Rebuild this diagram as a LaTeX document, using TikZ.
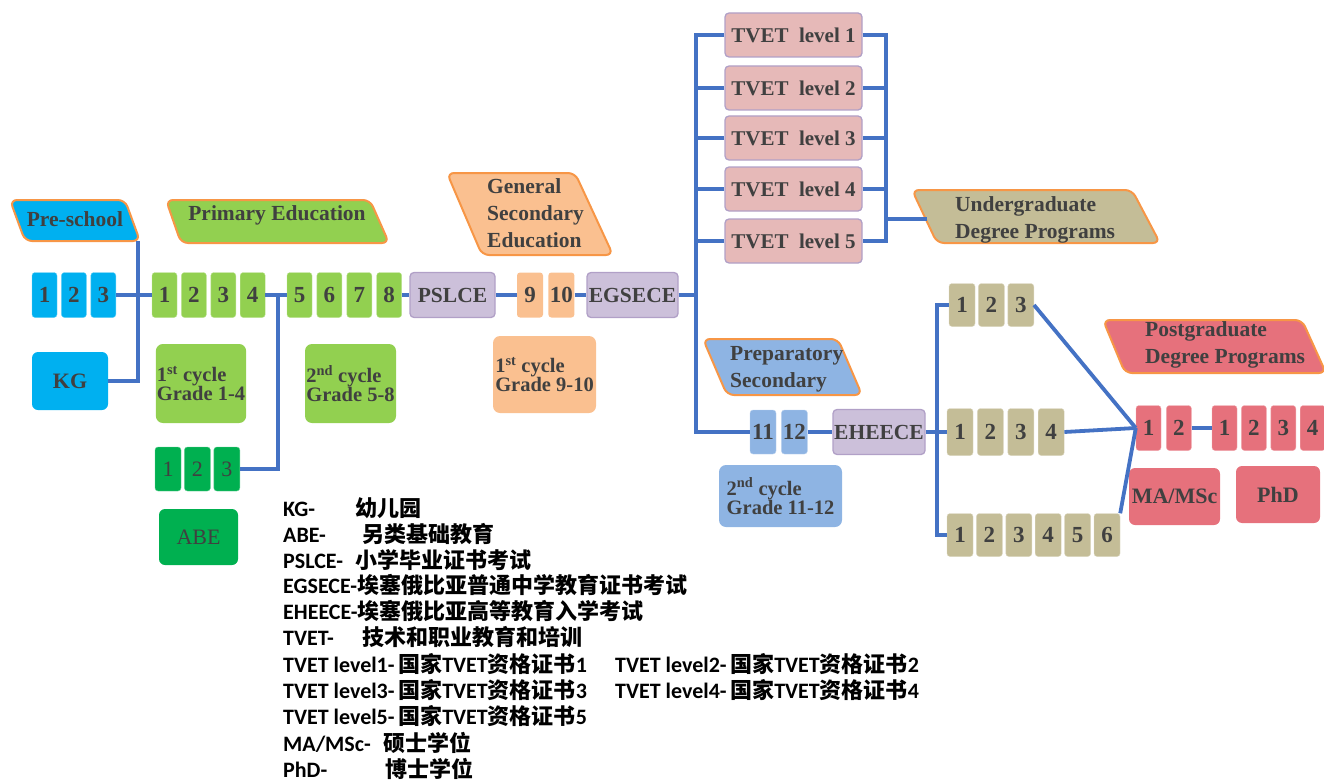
\documentclass[tikz,border=0pt]{standalone}
\usepackage{fontspec}
\setmainfont{Liberation Serif}
\newfontfamily\legendfont{Carlito}
\newfontfamily\cjk{Noto Sans CJK SC}
\usepackage{tikz}
\usetikzlibrary{positioning}
\newcommand{\zh}[1]{{\cjk\bfseries #1}}
\definecolor{linkblue}{HTML}{4472C4}
\definecolor{lblorange}{HTML}{F79646}
\definecolor{txtgrey}{HTML}{404040}
\definecolor{preblue}{HTML}{00B0F0}
\definecolor{primgreen}{HTML}{92D050}
\definecolor{abegreen}{HTML}{00B050}
\definecolor{exampurple}{HTML}{CCC0DA}
\definecolor{examborder}{HTML}{B1A0C7}
\definecolor{secorange}{HTML}{FAC090}
\definecolor{tvetpink}{HTML}{E6B9B8}
\definecolor{prepblue}{HTML}{8EB4E3}
\definecolor{ugtan}{HTML}{C4BD97}
\definecolor{pgred}{HTML}{E6717C}
\tikzstyle{link} = [draw=linkblue, line width=3.8pt]
\tikzstyle{grade} = [rectangle, rounded corners=3pt, minimum width=25pt, minimum height=45pt, inner sep=0pt, font=\bfseries\fontsize{23}{24}\selectfont, text=txtgrey]
\tikzstyle{bigbox} = [rectangle, rounded corners=6pt, inner sep=2pt, font=\bfseries\fontsize{22}{24}\selectfont, text=txtgrey]
\tikzstyle{cycle} = [rectangle, rounded corners=7pt, inner sep=1pt, align=left, font=\bfseries\fontsize{20.5}{19}\selectfont, text=txtgrey]
\tikzstyle{exam} = [rectangle, rounded corners=4pt, draw=examborder, line width=1.3pt, fill=exampurple, minimum height=45pt, inner sep=0pt, font=\bfseries\fontsize{21.5}{23}\selectfont, text=txtgrey]
\tikzstyle{tvet} = [exam, fill=tvetpink, minimum width=137pt, minimum height=44pt, font=\bfseries\fontsize{21}{23}\selectfont]
\tikzstyle{lbl} = [draw=lblorange, line width=2pt, rounded corners=7pt]
\tikzstyle{lbltext} = [align=left, inner sep=0pt, font=\bfseries\fontsize{21.5}{27}\selectfont, text=txtgrey]
\tikzstyle{legend} = [anchor=west, inner sep=0pt, font=\legendfont\bfseries\fontsize{22}{26}\selectfont]

\begin{document}
\begin{tikzpicture}[x=1pt, y=-1pt]
\useasboundingbox (0,0) rectangle (1324,781);

% section labels
\draw [lbl, fill=preblue] (10,200) -- (125,200) -- (140,241) -- (25,241) -- cycle;
\node [lbltext] (pre) at (75,219) {Pre-school};
\draw [lbl, fill=primgreen] (166,200) -- (370,200) -- (389,243) -- (181,243) -- cycle;
\node [lbltext] (prim) at (277,215) {Primary Education};
\draw [lbl, fill=secorange] (447,173) -- (575,173) -- (613,255) -- (482,255) -- cycle;
\node [lbltext, anchor=west] (gse) at (487,213) {General\\Secondary\\Education};
\draw [lbl, fill=ugtan] (912,190) -- (1132,190) -- (1160,243) -- (937,243) -- cycle;
\node [lbltext, anchor=west] (ug) at (955,220) {Undergraduate\\Degree Programs};
\draw [lbl, fill=prepblue] (703,339) -- (838,339) -- (862,395) -- (727,395) -- cycle;
\node [lbltext, anchor=west] (prep) at (730,369) {Preparatory\\Secondary};
\draw [lbl, fill=pgred] (1103,320) -- (1302,320) -- (1326,373) -- (1125,373) -- cycle;
\node [lbltext, anchor=west] (pg) at (1145,345) {Postgraduate\\Degree Programs};

% pre-school
\node [grade, fill=preblue, draw=preblue!60!white] (k1) at (44.5,295) {1};
\node [grade, fill=preblue, draw=preblue!60!white] (k2) [right=4pt of k1] {2};
\node [grade, fill=preblue, draw=preblue!60!white] (k3) [right=4pt of k2] {3};
\node [bigbox, fill=preblue, minimum width=76pt, minimum height=58pt] (kg) at (70,381) {KG};

% primary
\node [grade, fill=primgreen, draw=primgreen!60!white] (p1) at (164.5,295) {1};
\node [grade, fill=primgreen, draw=primgreen!60!white] (p2) [right=4pt of p1] {2};
\node [grade, fill=primgreen, draw=primgreen!60!white] (p3) [right=4pt of p2] {3};
\node [grade, fill=primgreen, draw=primgreen!60!white] (p4) [right=4pt of p3] {4};
\node [grade, fill=primgreen, draw=primgreen!60!white] (p5) at (299.5,295) {5};
\node [grade, fill=primgreen, draw=primgreen!60!white] (p6) [right=4.5pt of p5] {6};
\node [grade, fill=primgreen, draw=primgreen!60!white] (p7) [right=4.5pt of p6] {7};
\node [grade, fill=primgreen, draw=primgreen!60!white] (p8) [right=4.5pt of p7] {8};
\node [cycle, fill=primgreen, minimum width=90pt, minimum height=79pt] (c1) at (201,383.5) {1\textsuperscript{st} cycle\\Grade 1-4};
\node [cycle, fill=primgreen, minimum width=91pt, minimum height=79pt] (c2) at (350.5,383.5) {2\textsuperscript{nd} cycle\\Grade 5-8};

% ABE
\node [grade, fill=abegreen, draw=abegreen!60!white, minimum width=26pt, minimum height=44pt, font=\fontsize{22}{24}\selectfont] (a1) at (168,469) {1};
\node [grade, fill=abegreen, draw=abegreen!60!white, minimum width=26pt, minimum height=44pt, font=\fontsize{22}{24}\selectfont] (a2) [right=3pt of a1] {2};
\node [grade, fill=abegreen, draw=abegreen!60!white, minimum width=26pt, minimum height=44pt, font=\fontsize{22}{24}\selectfont] (a3) [right=3pt of a2] {3};
\node [bigbox, fill=abegreen, minimum width=79pt, minimum height=56pt, font=\fontsize{22}{24}\selectfont] (abe) at (198.5,537) {ABE};

% general secondary
\node [exam, minimum width=85pt] (pslce) at (452.5,295) {PSLCE};
\node [grade, fill=secorange, minimum width=26pt] (g9) at (530,295) {9};
\node [grade, fill=secorange, minimum width=26pt] (g10) [right=5pt of g9] {10};
\node [exam, minimum width=91pt] (egsece) at (632.5,295) {EGSECE};
\node [cycle, fill=secorange, minimum width=103pt, minimum height=77pt] (gc1) at (544.5,374.5) {1\textsuperscript{st} cycle\\Grade 9-10};

% TVET
\node [tvet] (t1) at (793.5,35) {TVET\ \ level 1};
\node [tvet] (t2) at (793.5,88) {TVET\ \ level 2};
\node [tvet] (t3) at (793.5,138) {TVET\ \ level 3};
\node [tvet] (t4) at (793.5,189) {TVET\ \ level 4};
\node [tvet] (t5) at (793.5,241) {TVET\ \ level 5};

% preparatory
\node [grade, fill=prepblue, draw=prepblue!60!white, minimum width=26pt, minimum height=44pt] (g11) at (763,432) {11};
\node [grade, fill=prepblue, draw=prepblue!60!white, minimum width=26pt, minimum height=44pt] (g12) [right=5pt of g11] {12};
\node [exam, minimum width=92pt] (eheece) at (879,432) {EHEECE};
\node [cycle, fill=prepblue, minimum width=123pt, minimum height=62pt] (cc2) at (780.5,496) {2\textsuperscript{nd} cycle\\Grade 11-12};

% undergraduate
\node [grade, fill=ugtan, draw=ugtan!60!white, minimum width=26pt, minimum height=43pt] (u1) at (962,305) {1};
\node [grade, fill=ugtan, draw=ugtan!60!white, minimum width=26pt, minimum height=43pt] (u2) [right=3pt of u1] {2};
\node [grade, fill=ugtan, draw=ugtan!60!white, minimum width=26pt, minimum height=43pt] (u3) [right=3pt of u2] {3};
\node [grade, fill=ugtan, draw=ugtan!60!white, minimum width=26pt, minimum height=47pt] (m1) at (960,432) {1};
\node [grade, fill=ugtan, draw=ugtan!60!white, minimum width=26pt, minimum height=47pt] (m2) [right=4pt of m1] {2};
\node [grade, fill=ugtan, draw=ugtan!60!white, minimum width=26pt, minimum height=47pt] (m3) [right=4pt of m2] {3};
\node [grade, fill=ugtan, draw=ugtan!60!white, minimum width=26pt, minimum height=47pt] (m4) [right=4pt of m3] {4};
\node [grade, fill=ugtan, draw=ugtan!60!white, minimum width=26pt, minimum height=43pt] (b1) at (960,535) {1};
\node [grade, fill=ugtan, draw=ugtan!60!white, minimum width=26pt, minimum height=43pt] (b2) [right=3pt of b1] {2};
\node [grade, fill=ugtan, draw=ugtan!60!white, minimum width=26pt, minimum height=43pt] (b3) [right=3pt of b2] {3};
\node [grade, fill=ugtan, draw=ugtan!60!white, minimum width=26pt, minimum height=43pt] (b4) [right=3pt of b3] {4};
\node [grade, fill=ugtan, draw=ugtan!60!white, minimum width=26pt, minimum height=43pt] (b5) [right=3pt of b4] {5};
\node [grade, fill=ugtan, draw=ugtan!60!white, minimum width=26pt, minimum height=43pt] (b6) [right=3pt of b5] {6};

% postgraduate
\node [grade, fill=pgred, draw=pgred!60!white] (q1) at (1148.5,428) {1};
\node [grade, fill=pgred, draw=pgred!60!white] (q2) [right=5pt of q1] {2};
\node [grade, fill=pgred, draw=pgred!60!white] (r1) at (1224.5,428) {1};
\node [grade, fill=pgred, draw=pgred!60!white] (r2) [right=4pt of r1] {2};
\node [grade, fill=pgred, draw=pgred!60!white] (r3) [right=4pt of r2] {3};
\node [grade, fill=pgred, draw=pgred!60!white] (r4) [right=4pt of r3] {4};
\node [bigbox, fill=pgred, minimum width=91pt, minimum height=57pt] (mas) at (1174.5,496.5) {MA/MSc};
\node [bigbox, fill=pgred, minimum width=84pt, minimum height=57pt] (phd) at (1278,494.5) {PhD};

% connectors
\coordinate (pre-foot) at (138,241);
\coordinate (abe-j) at (278,295);
\coordinate (tv-r) at (885,219);
\coordinate (ug-in) at (927,219);
\draw [link] (pre-foot) |- (kg.east);
\draw [link] (k3.east) -- (p1.west);
\draw [link] (p4.east) -- (p5.west);
\draw [link] (a3.east) -| (abe-j);
\draw [link] (p8.east) -- (pslce.west);
\draw [link] (pslce.east) -- (g9.west);
\draw [link] (g10.east) -- (egsece.west);
\draw [link] (egsece.east) -- ++(19,0);
\draw [link] (t1.west) -- ++(-28,0) |- (g11.west);
\draw [link] (t2.west) -- ++(-28,0);
\draw [link] (t3.west) -- ++(-28,0);
\draw [link] (t4.west) -- ++(-28,0);
\draw [link] (t5.west) -- ++(-28,0);
\draw [link] (t1.east) -- ++(23,0) |- (t5.east);
\draw [link] (t2.east) -- ++(23,0);
\draw [link] (t3.east) -- ++(23,0);
\draw [link] (t4.east) -- ++(23,0);
\draw [link] (tv-r) -- (ug-in);
\draw [link] (g12.east) -- (eheece.west);
\draw [link] (u1.west) -- ++(-12,0) |- (b1.west);
\draw [link] (eheece.east) -- (m1.west);
\draw [link] (u3.east) -- (q1.west);
\draw [link] (m4.east) -- (q1.west);
\draw [link] (b6.north east) -- (q1.west);
\draw [link] (q2.east) -- (r1.west);

% legend
\node [legend] (lg1) at (283,508) {\makebox[72pt][l]{KG-}\zh{幼儿园}};
\node [legend] (lg2) at (283,534) {\makebox[79pt][l]{ABE-}\zh{另类基础教育}};
\node [legend] (lg3) at (283,560) {\makebox[72pt][l]{PSLCE-}\zh{小学毕业证书考试}};
\node [legend] (lg4) at (283,585) {EGSECE-\zh{埃塞俄比亚普通中学教育证书考试}};
\node [legend] (lg5) at (283,611) {EHEECE-\zh{埃塞俄比亚高等教育入学考试}};
\node [legend] (lg6) at (283,637) {\makebox[79pt][l]{TVET-}\zh{技术和职业教育和培训}};
\node [legend] (lg7) at (283,664) {TVET level1-\,\zh{国家}TVET\zh{资格证书}1};
\node [legend] (lg8) at (615,664) {TVET level2-\,\zh{国家}TVET\zh{资格证书}2};
\node [legend] (lg9) at (283,690) {TVET level3-\,\zh{国家}TVET\zh{资格证书}3};
\node [legend] (lg10) at (615,690) {TVET level4-\,\zh{国家}TVET\zh{资格证书}4};
\node [legend] (lg11) at (283,716) {TVET level5-\,\zh{国家}TVET\zh{资格证书}5};
\node [legend] (lg12) at (283,743) {\makebox[100pt][l]{MA/MSc-}\zh{硕士学位}};
\node [legend] (lg13) at (283,769) {\makebox[102pt][l]{PhD-}\zh{博士学位}};
\end{tikzpicture}
\end{document}
